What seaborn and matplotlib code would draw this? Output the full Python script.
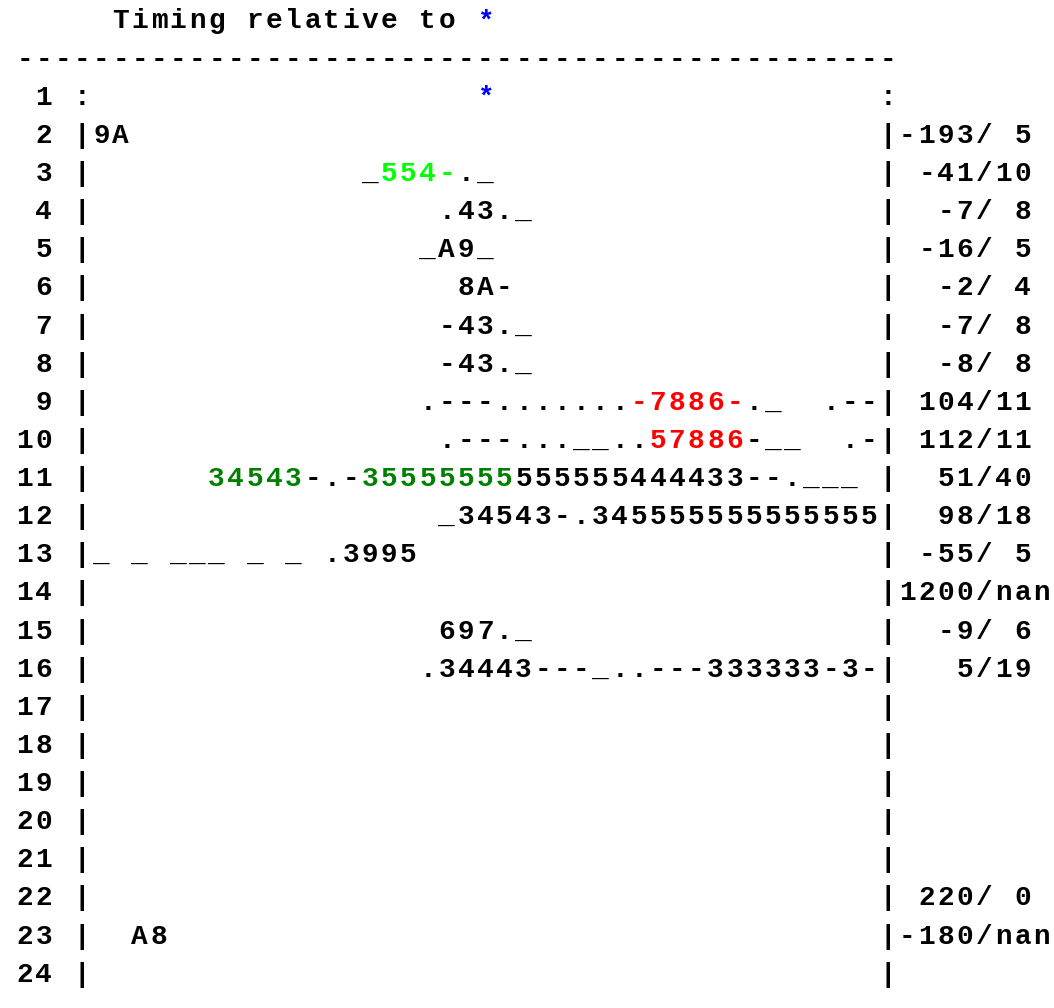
# Timing relative to * : text raster of per-row traces
import numpy as np
import matplotlib
matplotlib.use("Agg")
import matplotlib.pyplot as plt
import seaborn as sns

# Data
row_ids = list(range(1, 25))

# trace text inside the frame (41 columns wide), one string per row
traces = [
    " " * 20 + "*",
    "9A",
    " " * 14 + "_554-._",
    " " * 18 + ".43._",
    " " * 17 + "_A9_",
    " " * 19 + "8A-",
    " " * 18 + "-43._",
    " " * 18 + "-43._",
    " " * 17 + ".---.......-7886-._  .--",
    " " * 18 + ".---...__..57886-__  .-",
    " " * 6 + "34543-.-35555555555555444433--.___",
    " " * 18 + "_34543-.345555555555555",
    "_ _ ___ _ _ .3995",
    "",
    " " * 18 + "697._",
    " " * 17 + ".34443---_..---333333-3-",
    "", "", "", "", "", "",
    "  A8",
    "",
]

# offset / count shown right of the frame
offsets = [None, -193, -41, -7, -16, -2, -7, -8, 104, 112, 51, 98, -55, 1200,
           -9, 5, None, None, None, None, None, 220, -180, None]
counts = [None, 5, 10, 8, 5, 4, 8, 8, 11, 11, 40, 18, 5, np.nan,
          6, 19, None, None, None, None, None, 0, np.nan, None]

# coloured stretches: (row, first index, last index, colour name)
highlights = [
    (1, 20, 20, "star"),
    (3, 15, 18, "lime"),
    (9, 28, 33, "red"),
    (10, 29, 33, "red"),
    (11, 6, 10, "green"),
    (11, 14, 21, "green"),
]

title = "Timing relative to "
palette = {"text": "black", "star": "#0000ff", "lime": "#00ff00",
           "red": "#ff0000", "green": "#008000"}

sns.set_theme(style="white")

W, H = 1054, 1008
x0, cw = 15, 19.19     # left margin and character cell width (px)
y0, lh = 28.5, 38.13   # first baseline and line height (px)
fs = 20

fig = plt.figure(figsize=(W / 100, H / 100), dpi=100)
ax = fig.add_axes([0, 0, 1, 1])
ax.set_xlim(-x0 / cw, (W - x0) / cw)
ax.set_ylim((H - y0) / lh, -y0 / lh)
ax.axis("off")


def put(line, col, text, colors=None):
    for j, ch in enumerate(text):
        if ch == " ":
            continue
        c = colors[j] if colors else palette["text"]
        ax.text(col + j + 0.5, line, ch, ha="center", va="baseline",
                color=c, fontsize=fs, fontweight="bold",
                family=["Liberation Mono", "DejaVu Sans Mono"])


# header
put(0, 5, title)
put(0, 5 + len(title), "*", [palette["star"]])
put(1, 0, "-" * 46)

width = 41
for k, trace, off, cnt in zip(row_ids, traces, offsets, counts):
    line = k + 1
    put(line, 0, f"{k:2d}")
    border = ":" if k == 1 else "|"
    put(line, 3, border)
    put(line, 4 + width, border)

    cols = [palette["text"]] * len(trace)
    for r, a, b, name in highlights:
        if r == k:
            for j in range(a, b + 1):
                cols[j] = palette[name]
    put(line, 4, trace, cols)

    if off is not None:
        cnt_txt = "nan" if np.isnan(cnt) else f"{int(cnt):2d}"
        put(line, 5 + width, f"{off:4d}/{cnt_txt}")

fig.savefig("out.png", dpi=100)
